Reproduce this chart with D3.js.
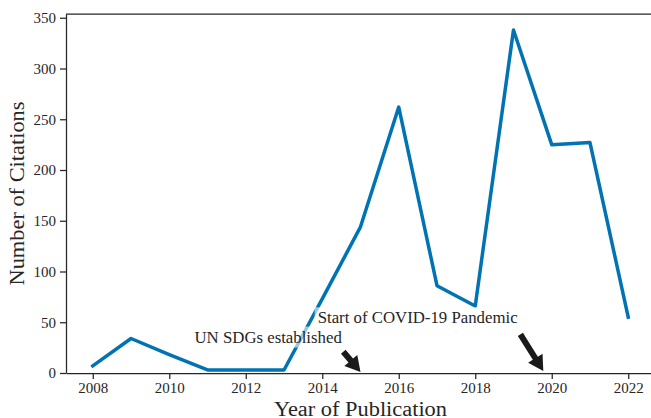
<!DOCTYPE html>
<html>
<head>
<meta charset="utf-8">
<script src="https://cdn.jsdelivr.net/npm/d3@7"></script>
<style>
  body { margin: 0; background: #fff; }
  svg { display: block; }
  .axis path, .axis line { stroke: #262626; stroke-width: 1.25; }
</style>
</head>
<body>
<svg id="chart"></svg>
<script>
// data
const years = [2008, 2009, 2010, 2011, 2012, 2013, 2014, 2015, 2016, 2017, 2018, 2019, 2020, 2021, 2022];
const citations = [7, 34, 18, 3, 3, 3, 73, 144, 262, 86, 66, 338, 225, 227, 55];
const xTicks = [2008, 2010, 2012, 2014, 2016, 2018, 2020, 2022];
const yTicks = [0, 50, 100, 150, 200, 250, 300, 350];

// annotations: text anchor (data coords), arrow tail and tip (data coords)
const notes = [
  {label: 'UN SDGs established', tx: 2010.66, ty: 30, from: [2014.55, 21], to: [2015.0, 1]},
  {label: 'Start of COVID-19 Pandemic', tx: 2013.88, ty: 49, from: [2019.18, 38], to: [2019.78, 2]}
];

const config = {
  width: 651, height: 418,
  margin: {top: 14, left: 66, bottom: 45},
  plotRight: 655,
  color: '#0173b2',
  font: '"Liberation Serif", "DejaVu Serif", serif'
};

const svg = d3.select('#chart')
  .attr('width', config.width)
  .attr('height', config.height)
  .style('font-family', config.font);

const x = d3.scaleLinear()
  .domain([2007.3, 2022.7])
  .range([config.margin.left, config.plotRight]);

const y = d3.scaleLinear()
  .domain([0, 353.7])
  .range([config.height - config.margin.bottom, config.margin.top]);

//---------------------------AXES---------------------------//
const xAxis = svg.append('g')
  .attr('class', 'axis')
  .attr('transform', `translate(0,${y(0)})`)
  .call(d3.axisBottom(x).tickValues(xTicks).tickFormat(d3.format('d')).tickSize(6).tickSizeOuter(0));

const yAxis = svg.append('g')
  .attr('class', 'axis')
  .attr('transform', `translate(${config.margin.left},0)`)
  .call(d3.axisLeft(y).tickValues(yTicks).tickSize(6).tickSizeOuter(0));

svg.selectAll('.axis')
  .attr('font-family', config.font)
  .attr('font-size', 15);
svg.selectAll('.axis text').attr('fill', '#262626');
xAxis.selectAll('text').attr('y', 20).attr('dy', null);
yAxis.selectAll('text').attr('x', -10);

// top spine
svg.append('line')
  .attr('x1', config.margin.left).attr('x2', config.plotRight)
  .attr('y1', y.range()[1]).attr('y2', y.range()[1])
  .attr('stroke', '#262626').attr('stroke-width', 1.25);

// axis titles
svg.append('text')
  .attr('x', (config.margin.left + config.plotRight) / 2)
  .attr('y', 415.5)
  .attr('text-anchor', 'middle')
  .attr('fill', '#262626')
  .attr('textLength', 173)
  .attr('lengthAdjust', 'spacingAndGlyphs')
  .style('font-size', '20.5px')
  .text('Year of Publication');

svg.append('text')
  .attr('transform', `translate(24,${(y.range()[0] + y.range()[1]) / 2}) rotate(-90)`)
  .attr('text-anchor', 'middle')
  .attr('fill', '#262626')
  .attr('textLength', 184)
  .attr('lengthAdjust', 'spacingAndGlyphs')
  .style('font-size', '20.5px')
  .text('Number of Citations');

//---------------------------LINE---------------------------//
const line = d3.line()
  .x((d, i) => x(years[i]))
  .y(d => y(d));

svg.append('path')
  .datum(citations)
  .attr('fill', 'none')
  .attr('stroke', config.color)
  .attr('stroke-width', 3.5)
  .attr('stroke-linejoin', 'round')
  .attr('stroke-linecap', 'square')
  .attr('d', line);

//------------------------ANNOTATIONS-----------------------//
const noteG = svg.append('g');
notes.forEach(n => {
  const g = noteG.append('g');
  const t = g.append('text')
    .attr('x', x(n.tx))
    .attr('y', y(n.ty))
    .attr('fill', '#262626')
    .style('font-size', '16.8px')
    .text(n.label);
  const bb = t.node().getBBox();
  g.insert('rect', 'text')
    .attr('x', bb.x - 3).attr('y', bb.y - 1)
    .attr('width', bb.width + 6).attr('height', bb.height + 2)
    .attr('fill', 'white').attr('fill-opacity', 0.6);

  // arrow as a polygon in pixel space
  const x0 = x(n.from[0]), y0 = y(n.from[1]);
  const x1 = x(n.to[0]), y1 = y(n.to[1]);
  const len = Math.hypot(x1 - x0, y1 - y0);
  const ux = (x1 - x0) / len, uy = (y1 - y0) / len;
  const px = -uy, py = ux;
  const shaftW = 3, headW = 8.5, headL = 15;
  const bx = x1 - ux * headL, by = y1 - uy * headL;
  const pts = [
    [x0 + px * shaftW, y0 + py * shaftW],
    [bx + px * shaftW, by + py * shaftW],
    [bx + px * headW, by + py * headW],
    [x1, y1],
    [bx - px * headW, by - py * headW],
    [bx - px * shaftW, by - py * shaftW],
    [x0 - px * shaftW, y0 - py * shaftW]
  ];
  g.append('polygon')
    .attr('points', pts.map(p => p.join(',')).join(' '))
    .attr('fill', '#1a1a1a');
});
</script>
</body>
</html>
